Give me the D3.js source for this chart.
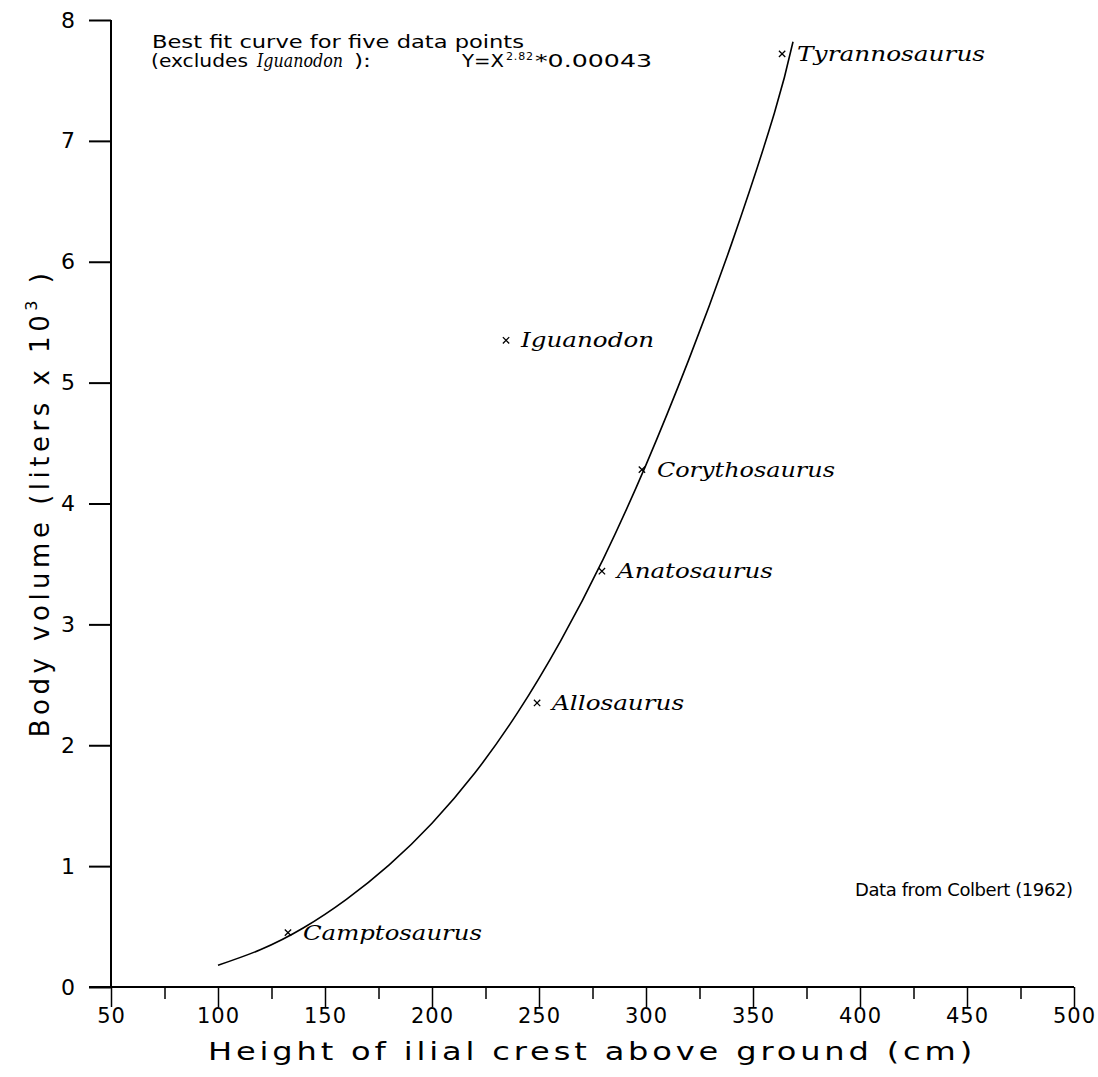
<!DOCTYPE html>
<html>
<head>
<meta charset="utf-8">
<script src="https://cdn.jsdelivr.net/npm/d3@7"></script>
<style>
  html, body { margin: 0; padding: 0; background: #fff; }
  svg { display: block; }
  .sans { font-family: "DejaVu Sans", "Liberation Sans", sans-serif; fill: #000; }
  .ital { font-family: "DejaVu Serif", "Liberation Serif", serif; font-style: italic; fill: #000; }
</style>
</head>
<body>
<script>
// ---- data ----
const species = ["Tyrannosaurus", "Iguanodon", "Corythosaurus", "Anatosaurus", "Allosaurus", "Camptosaurus"];
const heightCm = [363.6, 234.6, 298.1, 279.4, 249.1, 132.7];
const volumeKL = [7.72, 5.35, 4.28, 3.44, 2.35, 0.45];

// best-fit curve (smoothed by eye)
const curveX = [100, 120, 140, 160, 180, 200, 220, 240, 260, 280, 300, 320, 340, 360, 368.7];
const curveY = [0.18, 0.31, 0.49, 0.725, 1.01, 1.355, 1.77, 2.27, 2.86, 3.54, 4.32, 5.19, 6.15, 7.23, 7.82];

const xMajorTicks = [50, 100, 150, 200, 250, 300, 350, 400, 450, 500];
const xMinorTicks = [75, 125, 175, 225, 275, 325, 375, 425, 475];
const yTicks = [0, 1, 2, 3, 4, 5, 6, 7, 8];

const xTitle = "Height of ilial crest above ground (cm)";
const yTitle = "Body volume (liters x 10";
const noteLine1 = "Best fit curve for five data points";
const sourceNote = "Data from Colbert (1962)";

// ---- drawing ----
const W = 1098, H = 1077;
const svg = d3.select("body").append("svg").attr("width", W).attr("height", H);

const x = d3.scaleLinear().domain([50, 500]).range([111, 1074]);
const y = d3.scaleLinear().domain([0, 8]).range([987, 20]);

// x axis: major ticks
const gx = svg.append("g").attr("transform", `translate(0,${y(0)})`)
  .call(d3.axisBottom(x).tickValues(xMajorTicks).tickSize(20).tickPadding(0).tickFormat(d3.format("d")));
gx.select(".domain").attr("stroke", "#000").attr("stroke-width", 2).attr("d", `M${x(50) - 22},0H${x(500)}`);
gx.selectAll(".tick line").attr("stroke", "#000").attr("stroke-width", 1.5);
gx.selectAll(".tick text").attr("font-size", 21).attr("font-family", "DejaVu Sans").attr("fill", "#000")
  .attr("letter-spacing", 1).attr("dy", "0.75em");

// x axis: minor ticks
const gxm = svg.append("g").attr("transform", `translate(0,${y(0)})`)
  .call(d3.axisBottom(x).tickValues(xMinorTicks).tickSize(12).tickFormat(""));
gxm.select(".domain").remove();
gxm.selectAll(".tick line").attr("stroke", "#000").attr("stroke-width", 1.5);

// y axis
const gy = svg.append("g").attr("transform", `translate(${x(50)},0)`)
  .call(d3.axisLeft(y).tickValues(yTicks).tickSize(22).tickPadding(14).tickFormat(d3.format("d")));
gy.select(".domain").attr("stroke", "#000").attr("stroke-width", 2).attr("d", `M0,${y(8)}V${y(0)}`);
gy.selectAll(".tick line").attr("stroke", "#000").attr("stroke-width", 2);
gy.selectAll(".tick text").attr("font-size", 22).attr("font-family", "DejaVu Sans").attr("fill", "#000");

// fitted curve
const curvePts = curveX.map((v, i) => [v, curveY[i]]);
svg.append("path")
  .attr("d", d3.line().x(d => x(d[0])).y(d => y(d[1])).curve(d3.curveNatural)(curvePts))
  .attr("fill", "none").attr("stroke", "#000").attr("stroke-width", 1.6);

// points and labels
const pts = species.map((s, i) => ({ name: s, h: heightCm[i], v: volumeKL[i] }));
const sym = d3.symbol().type(d3.symbolX).size(28);
svg.append("g").selectAll("path").data(pts).join("path")
  .attr("transform", d => `translate(${x(d.h)},${y(d.v)})`)
  .attr("d", sym).attr("fill", "none").attr("stroke", "#000").attr("stroke-width", 1.3);

const labelWidths = { Tyrannosaurus: 188, Iguanodon: 133, Corythosaurus: 178, Anatosaurus: 156, Allosaurus: 132, Camptosaurus: 179 };
svg.append("g").selectAll("text").data(pts).join("text")
  .attr("class", "ital")
  .attr("x", d => x(d.h) + 15)
  .attr("y", d => y(d.v) + 7)
  .attr("font-size", 20)
  .attr("textLength", d => labelWidths[d.name])
  .attr("lengthAdjust", "spacingAndGlyphs")
  .text(d => d.name);

// axis titles
svg.append("text").attr("class", "sans")
  .attr("x", 592).attr("y", 1060).attr("text-anchor", "middle")
  .attr("font-size", 25).attr("letter-spacing", 3)
  .attr("textLength", 768).attr("lengthAdjust", "spacingAndGlyphs")
  .text(xTitle);

const yt = svg.append("text").attr("class", "sans")
  .attr("transform", "translate(49,503) rotate(-90)")
  .attr("text-anchor", "middle").attr("font-size", 26).attr("letter-spacing", 4.5);
yt.append("tspan").text(yTitle);
yt.append("tspan").attr("font-size", 16).attr("dy", -12).text("3");
yt.append("tspan").attr("dy", 12).text(" )");

// annotation
svg.append("text").attr("class", "sans").attr("x", 152).attr("y", 48)
  .attr("font-size", 18)
  .attr("textLength", 372).attr("lengthAdjust", "spacingAndGlyphs")
  .text(noteLine1);
const note2 = [
  { t: "(excludes", x0: 151, w: 97, cls: "sans" },
  { t: "Iguanodon", x0: 257, w: 86, cls: "ital" },
  { t: "):", x0: 354, w: 17, cls: "sans" },
  { t: "Y=X", x0: 462, w: 42, cls: "sans" },
  { t: "*0.00043", x0: 535, w: 117, cls: "sans" }
];
svg.append("g").selectAll("text").data(note2).join("text")
  .attr("class", d => d.cls).attr("x", d => d.x0).attr("y", 67)
  .attr("font-size", 18).attr("textLength", d => d.w).attr("lengthAdjust", "spacingAndGlyphs")
  .text(d => d.t);
svg.append("text").attr("class", "sans").attr("x", 506).attr("y", 60)
  .attr("font-size", 11).attr("textLength", 27).attr("lengthAdjust", "spacing").text("2.82");

svg.append("text").attr("class", "sans").attr("x", 855).attr("y", 896)
  .attr("font-size", 18)
  .attr("textLength", 218).attr("lengthAdjust", "spacing")
  .text(sourceNote);
</script>
</body>
</html>
